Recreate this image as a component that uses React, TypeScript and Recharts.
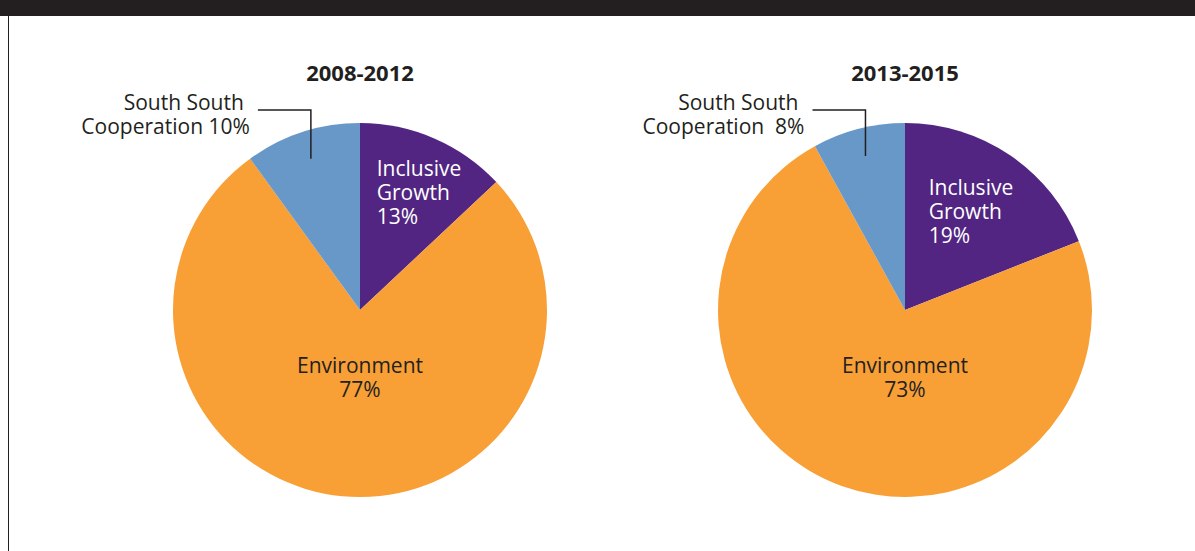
import { PieChart, Pie, Cell } from 'recharts';

const categories = ['Inclusive Growth', 'Environment', 'South South Cooperation'];
const share2008 = [13, 77, 10];
const share2013 = [19, 73, 8];
const periods = ['2008-2012', '2013-2015'];
const colors = ['#522582', '#f89f36', '#6898c8'];

const FONT = '"Open Sans", "Noto Sans", sans-serif';
const INK = '#231f20';
const RAD = Math.PI / 180;
const FS = 21;

const toRows = (vals: number[]) => categories.map((name, i) => ({ name, value: vals[i] }));

const renderLabel = (props: any) => {
  const { cx, cy, midAngle, outerRadius, name, value } = props;
  if (name === 'Inclusive Growth') {
    // left-aligned block inside the slice, shifted by the slice's mid angle
    const x = cx + outerRadius * 0.225 * Math.cos(midAngle * RAD);
    const y = cy - outerRadius * 1.12 * Math.sin(midAngle * RAD) + outerRadius * 0.4;
    return (
      <text x={x} y={y} fill="#fff" fontSize={FS} fontFamily={FONT}>
        <tspan x={x} dy={-17}>Inclusive</tspan>
        <tspan x={x} dy={24}>Growth</tspan>
        <tspan x={x} dy={24}>{value}%</tspan>
      </text>
    );
  }
  if (name === 'Environment') {
    const y = cy + outerRadius * 0.36;
    return (
      <text x={cx} y={y} fill={INK} fontSize={FS} fontFamily={FONT} textAnchor="middle">
        <tspan x={cx} dy={-4}>Environment</tspan>
        <tspan x={cx} dy={24}>{value}%</tspan>
      </text>
    );
  }
  // leader line from inside the slice up and to the left
  const r = outerRadius * 0.85;
  const px = cx + r * Math.cos(-midAngle * RAD);
  const py = cy + r * Math.sin(-midAngle * RAD);
  const ty = cy - 200;
  const lx = px - 53;
  const gap = value < 10 ? '\u00a0\u00a0' : ' ';
  return (
    <g>
      <polyline points={`${lx},${ty} ${px},${ty} ${px},${py}`} fill="none" stroke={INK} strokeWidth={1.5} />
      <text fill={INK} fontSize={FS} fontFamily={FONT} textAnchor="end">
        <tspan x={lx - 14} y={ty}>South South</tspan>
        <tspan x={lx - 8} y={ty + 24}>{`Cooperation${gap}${value}%`}</tspan>
      </text>
    </g>
  );
};

export default function App() {
  const sets = [share2008, share2013];
  const centers = [360, 905];
  return (
    <div style={{ position: 'absolute', left: 0, top: 0, width: 1195, height: 551, background: '#fff', overflow: 'hidden' }}>
      <div style={{ position: 'absolute', left: 0, top: 0, width: 1195, height: 16, background: INK }} />
      <div style={{ position: 'absolute', left: 8, top: 16, width: 1, height: 535, background: INK }} />
      {periods.map((p, i) => (
        <div
          key={p}
          style={{
            position: 'absolute',
            left: centers[i] - 100,
            top: 58,
            width: 200,
            textAlign: 'center',
            fontFamily: FONT,
            fontWeight: 700,
            fontSize: 22,
            color: INK,
            lineHeight: '28px',
          }}
        >
          {p}
        </div>
      ))}
      <PieChart
        width={1195}
        height={551}
        margin={{ top: 0, right: 0, bottom: 0, left: 0 }}
        style={{ position: 'absolute', left: 0, top: 0 }}
      >
        {sets.map((vals, i) => (
          <Pie
            key={periods[i]}
            data={toRows(vals)}
            dataKey="value"
            nameKey="name"
            cx={centers[i]}
            cy={310}
            outerRadius={187}
            startAngle={90}
            endAngle={-270}
            stroke="none"
            label={renderLabel}
            labelLine={false}
            isAnimationActive={false}
          >
            {vals.map((_, j) => (
              <Cell key={j} fill={colors[j]} />
            ))}
          </Pie>
        ))}
      </PieChart>
    </div>
  );
}
